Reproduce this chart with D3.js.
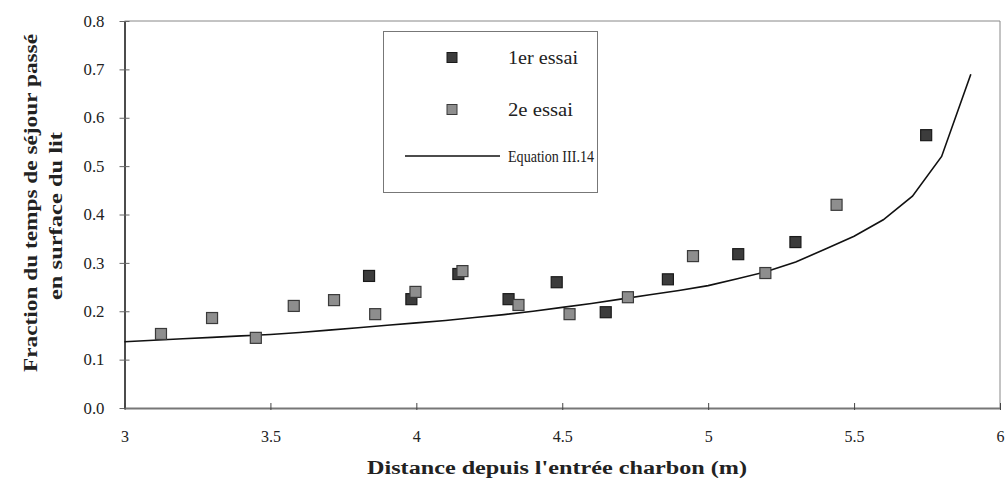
<!DOCTYPE html>
<html><head><meta charset="utf-8">
<script src="https://cdn.jsdelivr.net/npm/d3@7"></script>
<style>body{margin:0;background:#fff}svg{display:block}</style>
</head><body>
<svg id="c" width="1006" height="489"></svg>
<script>
const essai1X = [3.838, 3.983, 4.144, 4.316, 4.481, 4.649, 4.862, 5.103, 5.299, 5.747];
const essai1Y = [0.273, 0.225, 0.277, 0.225, 0.260, 0.198, 0.266, 0.318, 0.343, 0.564];
const essai2X = [3.125, 3.300, 3.450, 3.580, 3.718, 3.859, 3.997, 4.158, 4.350, 4.525, 4.725, 4.948, 5.196, 5.440];
const essai2Y = [0.153, 0.186, 0.145, 0.211, 0.223, 0.194, 0.240, 0.283, 0.213, 0.194, 0.229, 0.314, 0.279, 0.420];
const eqX = [3.0,3.1,3.2,3.3,3.4,3.5,3.6,3.7,3.8,3.9,4.0,4.1,4.2,4.3,4.4,4.5,4.6,4.7,4.8,4.9,5.0,5.1,5.2,5.3,5.4,5.5,5.6,5.7,5.8,5.9];
const eqY = [0.137,0.140,0.143,0.146,0.149,0.152,0.156,0.161,0.166,0.171,0.176,0.181,0.187,0.193,0.200,0.208,0.216,0.225,0.234,0.243,0.253,0.267,0.282,0.302,0.328,0.355,0.389,0.438,0.520,0.690];
const xTicks = [3, 3.5, 4, 4.5, 5, 5.5, 6];
const yTicks = [0, 0.1, 0.2, 0.3, 0.4, 0.5, 0.6, 0.7, 0.8];
const legendLabels = ["1er essai", "2e essai", "Equation III.14"];
const xTitle = "Distance depuis l'entrée charbon (m)";
const yTitle = ["Fraction du temps de séjour passé", "en surface du lit"];

const svg = d3.select("#c");
const L = 124.5, R = 1000, T = 21, B = 408;
const x = d3.scaleLinear().domain([3, 6]).range([L, R]);
const y = d3.scaleLinear().domain([0, 0.8]).range([B, T]);
const serif = "Liberation Serif";

// frame (top & right)
svg.append("path").attr("d", `M${L},${T}H${R}V${B}`).attr("fill","none").attr("stroke","#888").attr("stroke-width",1);

// y axis
const gy = svg.append("g").attr("transform",`translate(${L},0)`)
  .call(d3.axisLeft(y).tickValues(yTicks).tickFormat(d3.format(".1f")).tickSizeInner(5).tickSizeOuter(0).tickPadding(15));
gy.attr("font-family", serif);
gy.select(".domain").attr("stroke","#111").attr("stroke-width",1.5);
gy.selectAll(".tick line").attr("stroke","#666").attr("x2",-5).attr("x1",5);
gy.selectAll(".tick text").attr("font-family",serif).attr("font-size",16).attr("fill","#222")
  .attr("textLength",21).attr("lengthAdjust","spacingAndGlyphs");

// x axis
const gx = svg.append("g").attr("transform",`translate(0,${B})`)
  .call(d3.axisBottom(x).tickValues(xTicks).tickFormat(d => String(d)).tickSizeInner(3).tickSizeOuter(0).tickPadding(20));
gx.attr("font-family", serif);
gx.select(".domain").attr("stroke","#777").attr("stroke-width",2.2);
gx.selectAll(".tick line").attr("stroke","#444").attr("y1",-5).attr("y2",2);
gx.selectAll(".tick text").attr("font-family",serif).attr("font-size",16).attr("fill","#222");

// equation line
const line = d3.line().x((d,i)=>x(eqX[i])).y((d,i)=>y(eqY[i]));
svg.append("path").datum(eqY).attr("d", line).attr("fill","none").attr("stroke","#111").attr("stroke-width",1.6);

const S = 11;
function markers(xs, ys, fill, stroke){
  svg.append("g").selectAll("rect").data(xs).join("rect")
    .attr("x",(d)=>x(d)-S/2).attr("y",(d,i)=>y(ys[i])-S/2)
    .attr("width",S).attr("height",S)
    .attr("fill",fill).attr("stroke",stroke).attr("stroke-width",1.2);
}
markers(essai1X, essai1Y, "#3c3c3c", "#1a1a1a");
markers(essai2X, essai2Y, "#8e8e8e", "#3a3a3a");

// legend
const lg = svg.append("g");
lg.append("rect").attr("x",383.5).attr("y",31.5).attr("width",214).attr("height",161)
  .attr("fill","#fff").attr("stroke","#777").attr("stroke-width",1);
const ly = [58, 110, 156];
const lw = [70, 65, 86];
lg.append("rect").attr("x",452-S/2+0.5).attr("y",ly[0]-S/2).attr("width",S-1).attr("height",S-1).attr("fill","#3c3c3c").attr("stroke","#1a1a1a");
lg.append("rect").attr("x",452-S/2+0.5).attr("y",ly[1]-S/2).attr("width",S-1).attr("height",S-1).attr("fill","#8e8e8e").attr("stroke","#3a3a3a");
lg.append("line").attr("x1",405).attr("x2",500).attr("y1",ly[2]).attr("y2",ly[2]).attr("stroke","#111").attr("stroke-width",1.6);
lg.selectAll("text").data(legendLabels).join("text")
  .attr("x",508).attr("y",(d,i)=>ly[i]).attr("dy","0.35em")
  .attr("font-family",serif).attr("font-size",(d,i)=> i===2 ? 16 : 18).attr("fill","#222")
  .attr("textLength",(d,i)=>lw[i]).attr("lengthAdjust","spacingAndGlyphs").text(d=>d);

// axis titles
svg.append("text").attr("x",557).attr("y",474).attr("text-anchor","middle")
  .attr("font-family",serif).attr("font-weight","bold").attr("font-size",18).attr("fill","#222")
  .attr("textLength",380).attr("lengthAdjust","spacingAndGlyphs").text(xTitle);
const yt = svg.append("text").attr("transform","translate(0,0) rotate(-90)")
  .attr("font-family",serif).attr("font-weight","bold").attr("font-size",18).attr("fill","#222").attr("text-anchor","middle");
yt.append("tspan").attr("x",-203).attr("y",37).attr("textLength",338).attr("lengthAdjust","spacingAndGlyphs").text(yTitle[0]);
yt.append("tspan").attr("x",-216).attr("y",62).attr("textLength",168).attr("lengthAdjust","spacingAndGlyphs").text(yTitle[1]);
</script>
</body></html>
